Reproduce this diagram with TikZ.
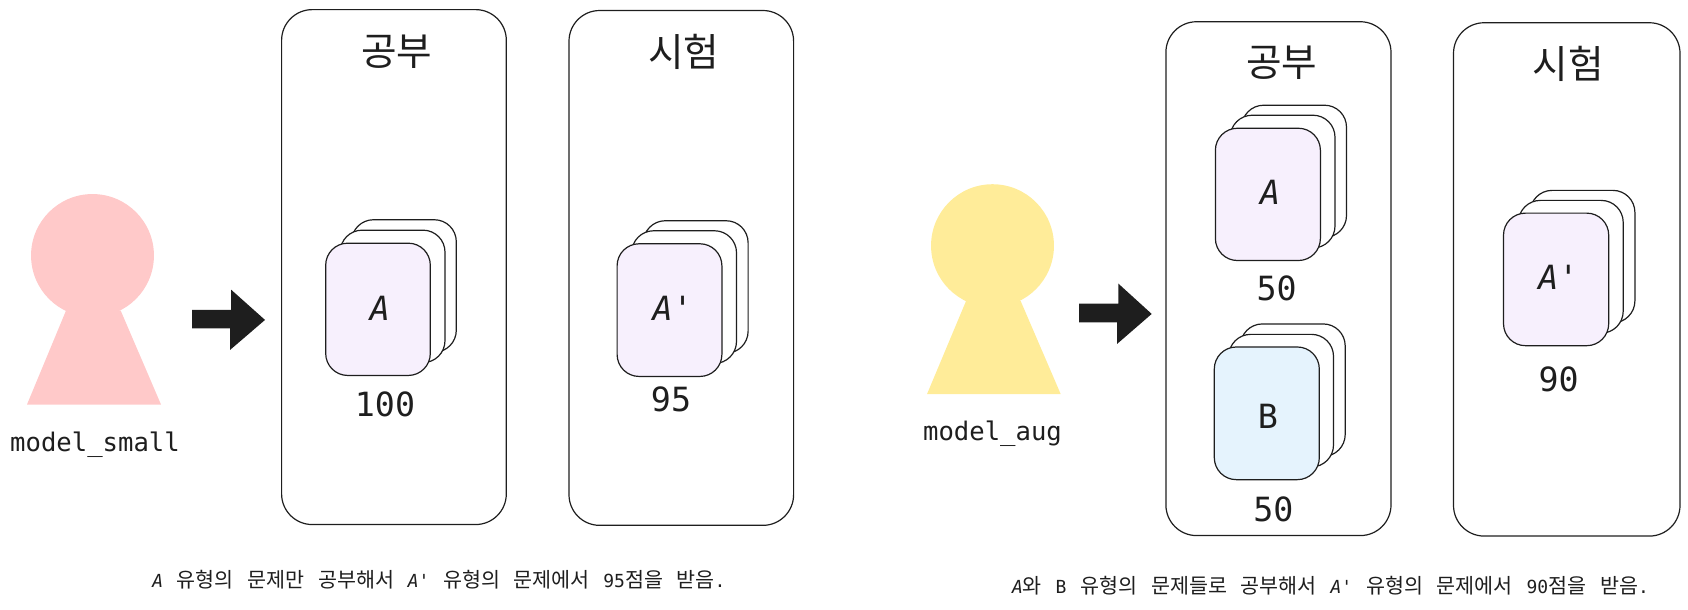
\documentclass[tikz,border=0pt]{standalone}
\usepackage{fontspec}
\setmainfont{DejaVu Sans Mono}[Ligatures=TeXOff]
\newfontfamily\cj{Noto Sans CJK KR}
\definecolor{ink}{HTML}{1E1E1E}
\definecolor{pinkfill}{HTML}{FFC9C9}
\definecolor{yellowfill}{HTML}{FFEC99}
\definecolor{violetfill}{HTML}{F7F0FD}
\definecolor{bluefill}{HTML}{E5F3FD}
\tikzset{
  x=0.75pt,y=-0.7515pt,
  panel/.style={draw=ink,line width=0.9pt,rounded corners=23pt},
  sheet/.style={draw=ink,line width=0.9pt,rounded corners=16.5pt,fill=#1},
  sheet/.default=white,
  blockarrow/.style={fill=ink,draw=none},
  title/.style={text=ink,inner sep=0pt,font=\cj\fontsize{29}{32}\selectfont},
  lab/.style={text=ink,inner sep=0pt,font=\fontsize{25}{28}\selectfont},
  modelname/.style={text=ink,inner sep=0pt,font=\fontsize{19.2}{22}\selectfont,anchor=base},
  caption/.style={text=ink,inner sep=0pt,anchor=base,font=\fontsize{13.5}{15}\selectfont},
}
\newcommand{\kr}[1]{{\cj\fontsize{15.5}{15}\selectfont #1}}
\begin{document}
\begin{tikzpicture}
\useasboundingbox (0,0) rectangle (1688,607.8);
% left figure
\fill[pinkfill] (92.5,255) circle[radius=46.1pt];
\fill[pinkfill] (66,310) -- (120.7,310) -- (161,403.7) -- (27,403.7) -- cycle;
\node[modelname] (nameA) at (95,451) {model\_small};
\fill[blockarrow] (192,309.3) -- (231,309.3) -- (231,289) -- (265,319.3) -- (230,349.3) -- (230,327.7) -- (192,327.7) -- cycle;
\draw[panel] (281.6,9.6) rectangle (506.3,523.5);
\draw[panel] (569,10.5) rectangle (793.6,524.3);
\node[title] (study1) at (396.6,51.5) {공부};
\node[title] (test1) at (683.8,52) {시험};
\draw[sheet] (351.5,219.3) rectangle (456.3,351.5);
\draw[sheet] (340.2,229.7) rectangle (445,361.9);
\draw[sheet=violetfill] (325.7,242.7) rectangle (430.3,374.7);
\node[lab] (la) at (380,307.5) {\itshape A};
\node[lab] (n100) at (385,403.5) {100};
\draw[sheet] (643.3,220.3) rectangle (748.1,352.5);
\draw[sheet] (631.7,230.3) rectangle (736.5,362.7);
\draw[sheet=violetfill] (617.1,243.3) rectangle (721.9,375.7);
\node[lab] (lap) at (672.7,308) {{\itshape A}'};
\node[lab] (n95) at (671,399) {95};
\node[caption] (capA) at (439,586) {\spaceskip=10.2pt\relax
  {\itshape A} \kr{유형의} \kr{문제만} \kr{공부해서} {\itshape A}' \kr{유형의} \kr{문제에서} 95\kr{점을} \kr{받음}.};
% right figure
\fill[yellowfill] (992.5,245.2) circle[radius=46.1pt];
\fill[yellowfill] (966,300.5) -- (1020.7,300.5) -- (1060.7,393.3) -- (927,393.3) -- cycle;
\node[modelname] (nameB) at (992.5,439.3) {model\_aug};
\fill[blockarrow] (1079,303) -- (1118.3,303) -- (1118.3,283) -- (1151.7,313.3) -- (1117,343.3) -- (1117,321.7) -- (1079,321.7) -- cycle;
\draw[panel] (1165.9,21.7) rectangle (1391,534.5);
\draw[panel] (1453.5,22.7) rectangle (1680,535);
\node[title] (study2) at (1281.7,63) {공부};
\node[title] (test2) at (1568.1,64) {시험};
\draw[sheet] (1241.7,105) rectangle (1346.5,237);
\draw[sheet] (1230.2,115) rectangle (1335,247.5);
\draw[sheet=violetfill] (1215.4,128) rectangle (1320.4,260);
\node[lab] (lb) at (1270.2,192) {\itshape A};
\node[lab] (n50a) at (1276.6,288) {50};
\draw[sheet] (1240.4,323.3) rectangle (1345.2,455.5);
\draw[sheet] (1228.7,333.7) rectangle (1333.5,466);
\draw[sheet=bluefill] (1214.3,346.3) rectangle (1319.3,478.7);
\node[lab] (lc) at (1268,415.7) {B};
\node[lab] (n50b) at (1273.4,508) {50};
\draw[sheet] (1530.1,190) rectangle (1634.9,322.2);
\draw[sheet] (1518.4,200) rectangle (1623.2,332.5);
\draw[sheet=violetfill] (1503.5,212.7) rectangle (1608.7,345);
\node[lab] (lbp) at (1558.3,277) {{\itshape A}'};
\node[lab] (n90) at (1558.7,379) {90};
\node[caption] (capB) at (1330.5,592) {\spaceskip=10.3pt\relax
  {\itshape A}\kr{와} B \kr{유형의} \kr{문제들로} \kr{공부해서} {\itshape A}' \kr{유형의} \kr{문제에서} 90\kr{점을} \kr{받음}.};
\end{tikzpicture}
\end{document}
